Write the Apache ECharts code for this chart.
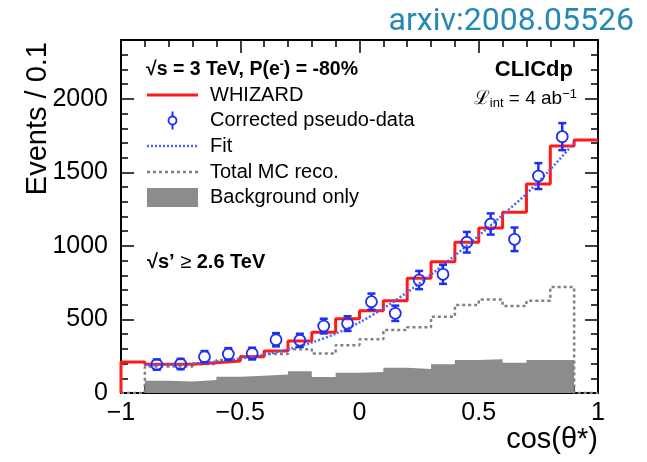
<!DOCTYPE html>
<html>
<head>
<meta charset="utf-8">
<script src="https://cdn.jsdelivr.net/npm/echarts@6/dist/echarts.min.js"></script>
<style>
  html, body { margin: 0; padding: 0; background: #fff; }
  #chart { width: 647px; height: 462px; }
</style>
</head>
<body>
<div id="chart"></div>
<script>
// Lower edges of the 0.1-wide cos(theta*) bins
const binLowEdges = [-1.0, -0.9, -0.8, -0.7, -0.6, -0.5, -0.4, -0.3, -0.2, -0.1,
                     0.0, 0.1, 0.2, 0.3, 0.4, 0.5, 0.6, 0.7, 0.8, 0.9];
const binWidth = 0.1;

// WHIZARD prediction, all 20 bins
const whizardEvents = [210, 195, 195, 205, 218, 247, 286, 354, 413, 505,
                       560, 628, 780, 893, 1025, 1122, 1229, 1421, 1679, 1720];

// Reconstructed MC and background, bins from -0.9 to 0.9
const recoLowEdges = [-0.9, -0.8, -0.7, -0.6, -0.5, -0.4, -0.3, -0.2, -0.1,
                      0.0, 0.1, 0.2, 0.3, 0.4, 0.5, 0.6, 0.7, 0.8];
const mcRecoEvents = [180, 180, 197, 225, 250, 265, 298, 268, 325,
                      365, 428, 447, 519, 598, 635, 592, 627, 720];
const backgroundEvents = [84, 78, 88, 110, 118, 125, 148, 108, 138,
                          142, 172, 163, 195, 224, 230, 206, 224, 224];

// Corrected pseudo-data at bin centres, with uncertainties
const dataCos = [-0.85, -0.75, -0.65, -0.55, -0.45, -0.35, -0.25, -0.15, -0.05,
                 0.05, 0.15, 0.25, 0.35, 0.45, 0.55, 0.65, 0.75, 0.85];
const dataEvents = [193, 197, 247, 265, 268, 362, 358, 455, 472,
                    621, 542, 768, 807, 1025, 1149, 1045, 1475, 1743];
const dataErrors = [35, 35, 38, 40, 40, 45, 45, 50, 50,
                    55, 52, 62, 65, 70, 72, 80, 88, 92];

// Fitted curve
const fitCos = [-0.9, -0.8, -0.7, -0.6, -0.5, -0.4, -0.3, -0.2, -0.1, 0.0,
                0.1, 0.2, 0.3, 0.4, 0.5, 0.6, 0.7, 0.8, 0.9];
const fitEvents = [190, 193, 200, 214, 234, 260, 296, 343, 403, 480,
                   575, 685, 805, 935, 1070, 1210, 1355, 1520, 1700];

// Axis ranges and tick labels
const xRange = [-1, 1];
const yRange = [0, 2400];
const yTickValues = [0, 500, 1000, 1500, 2000];

// Turn bin contents into points for a step line that holds each value across its bin
function histogramPoints(lowEdges, values, closeToZero) {
  const pts = [];
  if (closeToZero) pts.push([lowEdges[0] - binWidth, 0]);
  lowEdges.forEach((x, i) => pts.push([x, values[i]]));
  const lastHigh = +(lowEdges[lowEdges.length - 1] + binWidth).toFixed(2);
  pts.push([lastHigh, values[values.length - 1]]);
  if (closeToZero) { pts.push([lastHigh, 0]); pts.push([lastHigh + binWidth, 0]); }
  return pts;
}

const whizardPts = [[binLowEdges[0], 0]].concat(histogramPoints(binLowEdges, whizardEvents, false));
const mcRecoPts = histogramPoints(recoLowEdges, mcRecoEvents, true);
const backgroundPts = histogramPoints(recoLowEdges, backgroundEvents, false);
const fitPts = fitCos.map((c, i) => [c, fitEvents[i]]);
const dataPts = dataCos.map((c, i) => [c, dataEvents[i], dataErrors[i]]);

const RED = '#ff1a1a';
const BLUE = '#1f2ff0';
const FIT_BLUE = '#4d63ff';
const GREY = '#808080';
const BG_FILL = '#8c8c8c';
const FONT = '"Liberation Sans", Arial, Helvetica, sans-serif';

const MARKER_R = 5.5;

// Data point: open circle with error bar and caps
function renderDataPoint(params, api) {
  const x = api.value(0), y = api.value(1), e = api.value(2);
  const c = api.coord([x, y]);
  const top = api.coord([x, y + e]);
  const bot = api.coord([x, y - e]);
  const children = [];
  const lineStyle = { stroke: BLUE, lineWidth: 2.5 };
  if (top[1] < c[1] - MARKER_R) {
    children.push({ type: 'line', shape: { x1: c[0], y1: top[1], x2: c[0], y2: c[1] - MARKER_R }, style: lineStyle });
    children.push({ type: 'line', shape: { x1: c[0], y1: c[1] + MARKER_R, x2: c[0], y2: bot[1] }, style: lineStyle });
  }
  children.push({ type: 'line', shape: { x1: c[0] - 4, y1: top[1], x2: c[0] + 4, y2: top[1] }, style: lineStyle });
  children.push({ type: 'line', shape: { x1: c[0] - 4, y1: bot[1], x2: c[0] + 4, y2: bot[1] }, style: lineStyle });
  children.push({ type: 'circle', shape: { cx: c[0], cy: c[1], r: MARKER_R }, style: { fill: 'rgba(255,255,255,0)', stroke: BLUE, lineWidth: 1.8 } });
  return { type: 'group', children };
}

function axisCommon(extra) {
  return Object.assign({
    type: 'value',
    axisLine: { show: true, onZero: false, lineStyle: { color: '#000', width: 2 } },
    axisTick: { show: true, inside: true, length: 13, lineStyle: { color: '#000', width: 1.5 } },
    minorTick: { show: true, splitNumber: 5, length: 7, lineStyle: { color: '#000', width: 1.5 } },
    splitLine: { show: false },
    minorSplitLine: { show: false }
  }, extra);
}

const chart = echarts.init(document.getElementById('chart'), null, { renderer: 'canvas' });

const legendX = 147, legendText = 210;
const rowY = [95, 120.5, 146, 172, 197];

chart.setOption({
  animation: false,
  backgroundColor: '#fff',
  grid: { left: 121, right: 49, top: 40, bottom: 69, containLabel: false },
  xAxis: [
    axisCommon({
      position: 'bottom', min: xRange[0], max: xRange[1], interval: 0.5,
      axisLabel: {
        show: true, margin: 8, color: '#000', fontFamily: FONT, fontSize: 25,
        formatter: v => String(v).replace('-', '\u2212')
      }
    }),
    axisCommon({ position: 'top', min: xRange[0], max: xRange[1], interval: 0.5, axisLabel: { show: false } })
  ],
  yAxis: [
    axisCommon({
      position: 'left', min: yRange[0], max: yRange[1], interval: 500,
      axisLabel: {
        show: true, margin: 13, color: '#000', fontFamily: FONT, fontSize: 25,
        formatter: v => (yTickValues.indexOf(v) >= 0 ? String(v) : '')
      }
    }),
    axisCommon({ position: 'right', min: yRange[0], max: yRange[1], interval: 500, axisLabel: { show: false } })
  ],
  series: [
    {
      name: 'Background only', type: 'line', step: 'end', data: backgroundPts,
      symbol: 'none', lineStyle: { width: 0, color: BG_FILL },
      areaStyle: { color: BG_FILL, opacity: 1 }, z: 1
    },
    {
      name: 'Total MC reco.', type: 'line', step: 'end', data: mcRecoPts,
      symbol: 'none', lineStyle: { width: 2.5, color: GREY, type: [3, 3] }, z: 2
    },
    {
      name: 'WHIZARD', type: 'line', step: 'end', data: whizardPts,
      symbol: 'none', lineStyle: { width: 3, color: RED }, z: 3
    },
    {
      name: 'Fit', type: 'line', smooth: 0.3, data: fitPts,
      symbol: 'none', lineStyle: { width: 2.5, color: FIT_BLUE, type: [2, 2] }, z: 4
    },
    {
      name: 'Corrected pseudo-data', type: 'custom', data: dataPts,
      renderItem: renderDataPoint, encode: { x: 0, y: 1 }, z: 5
    }
  ],
  graphic: [
    // top-right reference tag
    { type: 'text', right: 13, top: 6, style: { text: 'arxiv:2008.05526', fill: '#2589b3', font: '32px Roboto, "Liberation Sans", sans-serif' } },
    // axis titles
    { type: 'text', x: 38, y: 42, rotation: Math.PI / 2,
      style: { text: 'Events / 0.1', fill: '#000', font: '29px ' + FONT, textAlign: 'right', textVerticalAlign: 'middle' } },
    { type: 'text', x: 598, y: 440,
      style: { text: 'cos(\u03b8*)', fill: '#000', font: '29px ' + FONT, textAlign: 'right', textVerticalAlign: 'middle' } },
    // header line of the legend
    { type: 'text', x: legendX - 1, y: 70,
      style: {
        text: '{b|\u221as = 3 TeV, P(e}{s|-}{b|) = -80%}', textVerticalAlign: 'middle',
        rich: {
          b: { fontFamily: FONT, fontWeight: 'bold', fontSize: 19.5, fill: '#000', lineHeight: 23 },
          s: { fontFamily: FONT, fontWeight: 'bold', fontSize: 12, fill: '#000', lineHeight: 23, padding: [0, 0, 10, 0] }
        }
      } },
    // legend samples
    { type: 'line', shape: { x1: legendX, y1: rowY[0], x2: 198, y2: rowY[0] }, style: { stroke: RED, lineWidth: 3 } },
    { type: 'line', shape: { x1: 172.5, y1: rowY[1] - 9, x2: 172.5, y2: rowY[1] + 9 }, style: { stroke: BLUE, lineWidth: 2 } },
    { type: 'circle', shape: { cx: 172.5, cy: rowY[1], r: 4 }, style: { fill: '#fff', stroke: BLUE, lineWidth: 1.8 } },
    { type: 'line', shape: { x1: legendX, y1: rowY[2], x2: 197, y2: rowY[2] }, style: { stroke: FIT_BLUE, lineWidth: 2.5, lineDash: [2, 2] } },
    { type: 'line', shape: { x1: legendX, y1: rowY[3], x2: 198, y2: rowY[3] }, style: { stroke: GREY, lineWidth: 2.5, lineDash: [3, 3] } },
    { type: 'rect', shape: { x: legendX, y: 188, width: 51, height: 19 }, style: { fill: BG_FILL } },
    // legend labels
    { type: 'text', x: legendText, y: rowY[0], style: { text: 'WHIZARD', fill: '#000', font: '20px ' + FONT, textVerticalAlign: 'middle' } },
    { type: 'text', x: legendText, y: rowY[1], style: { text: 'Corrected pseudo-data', fill: '#000', font: '20px ' + FONT, textVerticalAlign: 'middle' } },
    { type: 'text', x: legendText, y: rowY[2], style: { text: 'Fit', fill: '#000', font: '20px ' + FONT, textVerticalAlign: 'middle' } },
    { type: 'text', x: legendText, y: rowY[3], style: { text: 'Total MC reco.', fill: '#000', font: '20px ' + FONT, textVerticalAlign: 'middle' } },
    { type: 'text', x: legendText, y: rowY[4], style: { text: 'Background only', fill: '#000', font: '20px ' + FONT, textVerticalAlign: 'middle' } },
    // experiment and luminosity labels
    { type: 'text', x: 573, y: 70, style: { text: 'CLICdp', fill: '#000', font: 'bold 22px ' + FONT, textAlign: 'right', textVerticalAlign: 'middle' } },
    { type: 'text', x: 577, y: 99,
      style: {
        text: '{m|\u2112}{s|int}{m| = 4 ab}{p|\u22121}', textAlign: 'right', textVerticalAlign: 'middle',
        rich: {
          m: { fontFamily: FONT, fontSize: 19, fill: '#000', lineHeight: 24 },
          s: { fontFamily: FONT, fontSize: 13, fill: '#000', lineHeight: 24, padding: [8, 0, 0, 0] },
          p: { fontFamily: FONT, fontSize: 13, fill: '#000', lineHeight: 24, padding: [0, 0, 10, 0] }
        }
      } },
    // effective energy cut
    { type: 'text', x: legendX, y: 262,
      style: {
        text: '{b|\u221as\u2019 }{n|\u2265}{b| 2.6 TeV}', textVerticalAlign: 'middle',
        rich: {
          b: { fontFamily: FONT, fontWeight: 'bold', fontSize: 20, fill: '#000' },
          n: { fontFamily: FONT, fontSize: 20, fill: '#000' }
        }
      } }
  ]
});
</script>
</body>
</html>
